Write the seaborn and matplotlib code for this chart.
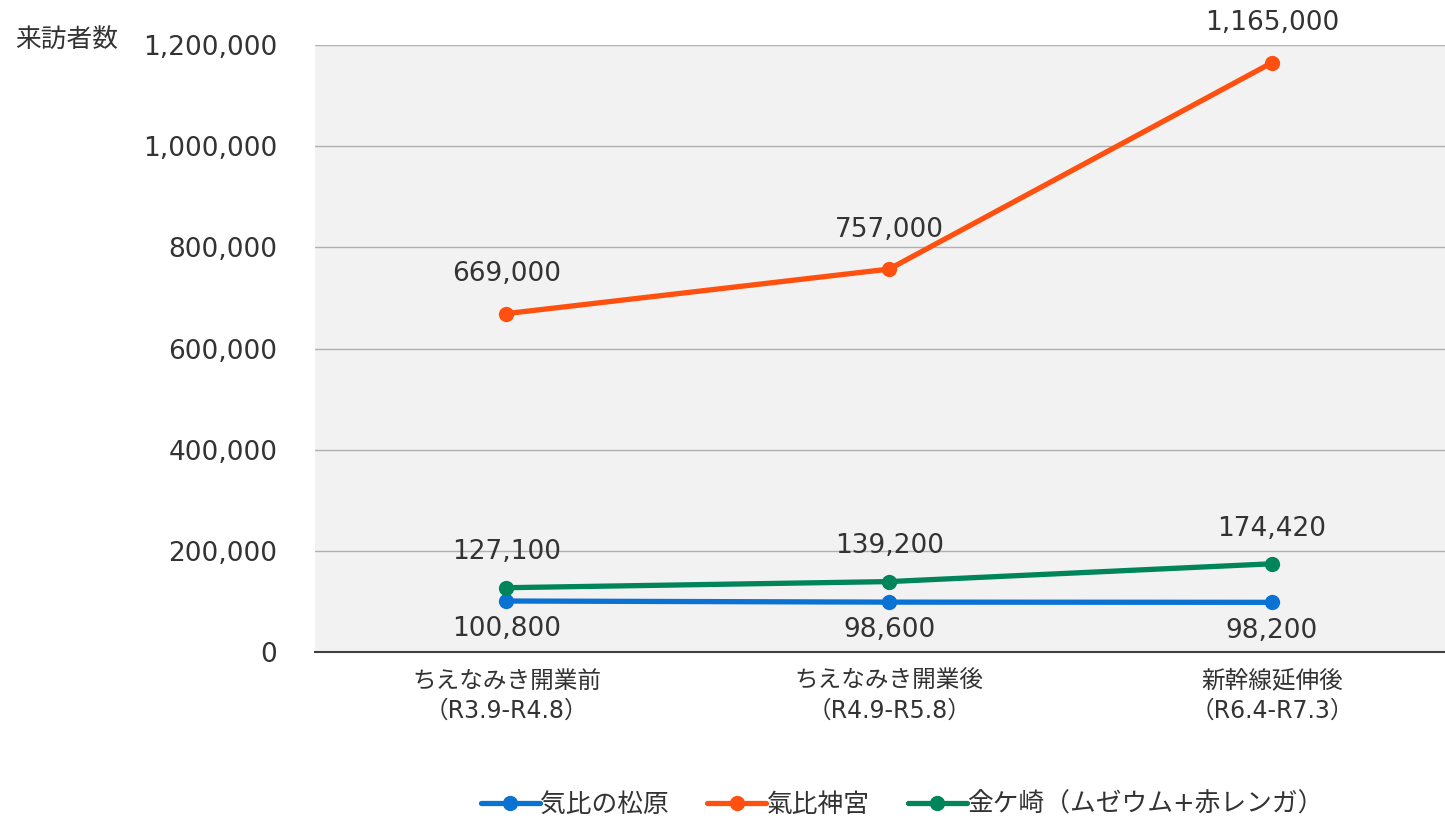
import matplotlib
matplotlib.use("Agg")
import matplotlib.pyplot as plt
import seaborn as sns
import pandas as pd
import numpy as np
from matplotlib.lines import Line2D

categories = ["ちえなみき開業前\n（R3.9-R4.8）", "ちえなみき開業後\n（R4.9-R5.8）", "新幹線延伸後\n（R6.4-R7.3）"]
series_names = ["気比の松原", "氣比神宮", "金ケ崎（ムゼウム+赤レンガ）"]
matsubara = [100800, 98600, 98200]
jingu = [669000, 757000, 1165000]
kanegasaki = [127100, 139200, 174420]
colors = ["#0a72d2", "#ff5010", "#00845a"]
yticks = [0, 200000, 400000, 600000, 800000, 1000000, 1200000]

sns.set_theme(style="white")
plt.rcParams['font.family'] = ['DejaVu Sans', 'Noto Sans CJK JP']
MIX = ['DejaVu Sans', 'Noto Sans CJK JP']

rows = []
for name, vals in zip(series_names, [matsubara, jingu, kanegasaki]):
    for i, v in enumerate(vals):
        rows.append({"pos": i, "value": v, "series": name})
df = pd.DataFrame(rows)

fig = plt.figure(figsize=(14.45, 8.18), dpi=100)
ax = fig.add_axes([315/1445, 1-652/818, 1-315/1445, (652-45)/818])
ax.set_facecolor("#f2f2f2")

sns.lineplot(data=df, x="pos", y="value", hue="series", hue_order=series_names,
             palette=colors, marker="o", markersize=11, markeredgewidth=0,
             linewidth=3.8, ax=ax, legend=False, zorder=3)

ax.set_xlim(-0.5, 2.452)
ax.set_ylim(0, 1200000)
ax.set_yticks(yticks)
ax.set_yticklabels([f"{v:,}" for v in yticks], fontsize=19, color="#333333",
                   family='DejaVu Sans')
ax.set_xticks(range(len(categories)))
ax.set_xticklabels(categories, fontsize=17, color="#333333",
                   family=MIX, linespacing=1.3)
ax.tick_params(axis='both', length=0)
ax.tick_params(axis='y', pad=27)
ax.tick_params(axis='x', pad=12)
ax.grid(axis='y', color="#b0b0b0", linewidth=1)
ax.set_axisbelow(True)
for s in ["top", "right", "left"]:
    ax.spines[s].set_visible(False)
ax.spines["bottom"].set_color("#404040")
ax.spines["bottom"].set_linewidth(1.5)
ax.set_xlabel("")
ax.set_ylabel("")

# data labels
for vals, off, va in [(jingu, 19, 'bottom'), (kanegasaki, 16, 'bottom'), (matsubara, -11, 'top')]:
    for i, v in enumerate(vals):
        ax.annotate(f"{v:,}", (i, v), xytext=(0, off), textcoords="offset points",
                    ha="center", va=va, fontsize=19, color="#333333",
                    family='DejaVu Sans', annotation_clip=False)

fig.text(15/1445, 1-40/818, "来訪者数", fontsize=18.5, color="#333333",
         family=['Noto Sans CJK JP'], ha="left", va="center")

handles = [Line2D([], [], color=c, linewidth=3.8, marker="o", markersize=11,
                  markeredgewidth=0) for c in colors]
fig.legend(handles, series_names, loc="center", bbox_to_anchor=(902/1445, 1-805/818),
           ncol=3, frameon=False, prop={'family': MIX, 'size': 18.5},
           handlelength=2.3, handletextpad=0.0, columnspacing=1.5, labelcolor="#333333")

fig.savefig("out.png", dpi=100)
